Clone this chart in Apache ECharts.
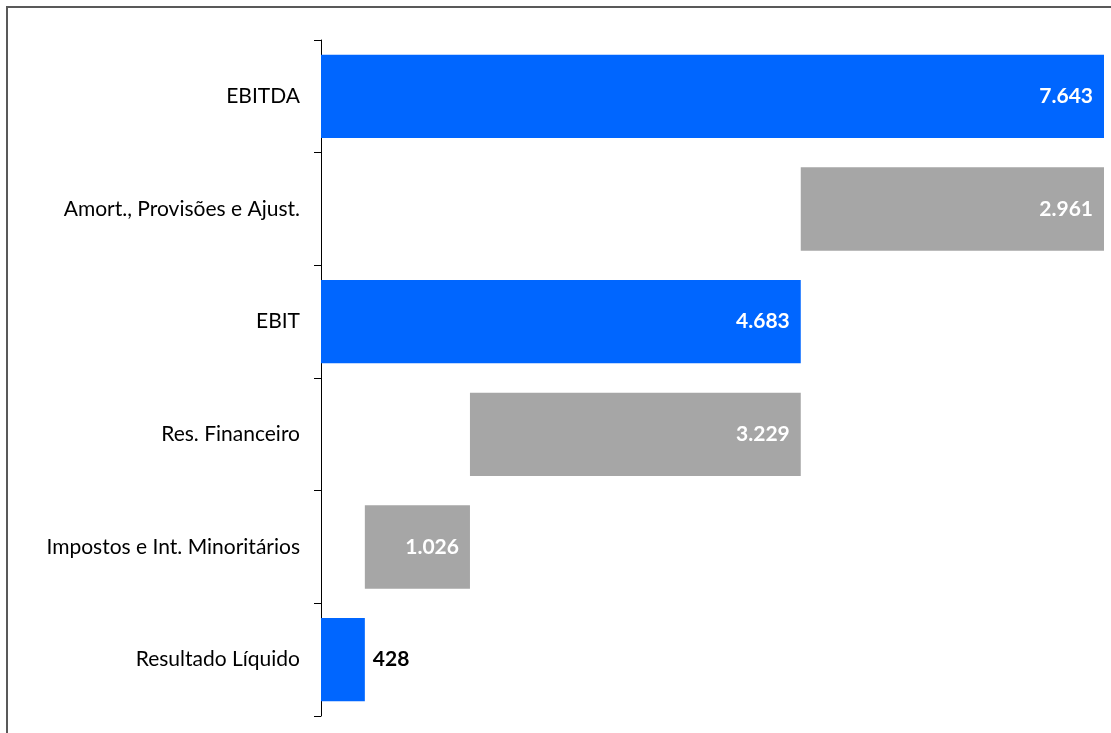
<!DOCTYPE html>
<html>
<head>
<meta charset="utf-8">
<script src="https://cdn.jsdelivr.net/npm/echarts@6/dist/echarts.min.js"></script>
<style>
    html, body {margin: 0; padding: 0; background: #fff;}
    #chart {width: 1111px; height: 733px;}
</style>
</head>
<body>
<div id="chart"></div>
<script>
    const categories = [
        'EBITDA',
        'Amort., Provisões e Ajust.',
        'EBIT',
        'Res. Financeiro',
        'Impostos e Int. Minoritários',
        'Resultado Líquido'
    ];
    // invisible base under each bar (waterfall offset)
    const baseValues = [0, 4683, 0, 1454, 428, 0];
    const barValues = [7643, 2961, 4683, 3229, 1026, 428];
    // true = total (blue), false = step (gray)
    const isTotal = [true, false, true, false, false, true];

    const BLUE = '#0066ff';
    const GRAY = '#a6a6a6';
    const FONT = 'Lato';

    function fmt(v) {
        return String(v).replace(/\B(?=(\d{3})+(?!\d))/g, '.');
    }

    const chart = echarts.init(document.getElementById('chart'));

    const option = {
        animation: false,
        grid: {left: 321, right: 7, top: 40, bottom: 17},
        graphic: [{
            type: 'rect',
            shape: {x: 7, y: 7, width: 1120, height: 760},
            style: {fill: 'none', stroke: '#595959', lineWidth: 2},
            silent: true
        }],
        xAxis: {
            type: 'value',
            min: 0,
            max: 7643,
            show: false
        },
        yAxis: {
            type: 'category',
            inverse: true,
            data: categories,
            axisLine: {lineStyle: {color: '#000', width: 1}},
            axisTick: {show: true, length: 7, lineStyle: {color: '#000'}},
            axisLabel: {
                margin: 21,
                color: '#000',
                fontFamily: FONT,
                fontSize: 21
            }
        },
        series: [
            {
                type: 'bar',
                stack: 'w',
                silent: true,
                itemStyle: {color: 'transparent'},
                data: baseValues
            },
            {
                type: 'bar',
                stack: 'w',
                barCategoryGap: '26%',
                data: barValues.map(function (v, i) {
                    const small = v < 800;
                    return {
                        value: v,
                        itemStyle: {color: isTotal[i] ? BLUE : GRAY},
                        label: {
                            show: true,
                            position: small ? 'right' : 'insideRight',
                            distance: small ? 8 : 11,
                            color: small ? '#000' : '#fff',
                            fontWeight: 'bold',
                            fontFamily: FONT,
                            fontSize: 21,
                            formatter: function () { return fmt(v); }
                        }
                    };
                })
            }
        ]
    };

    chart.setOption(option);
</script>
</body>
</html>
